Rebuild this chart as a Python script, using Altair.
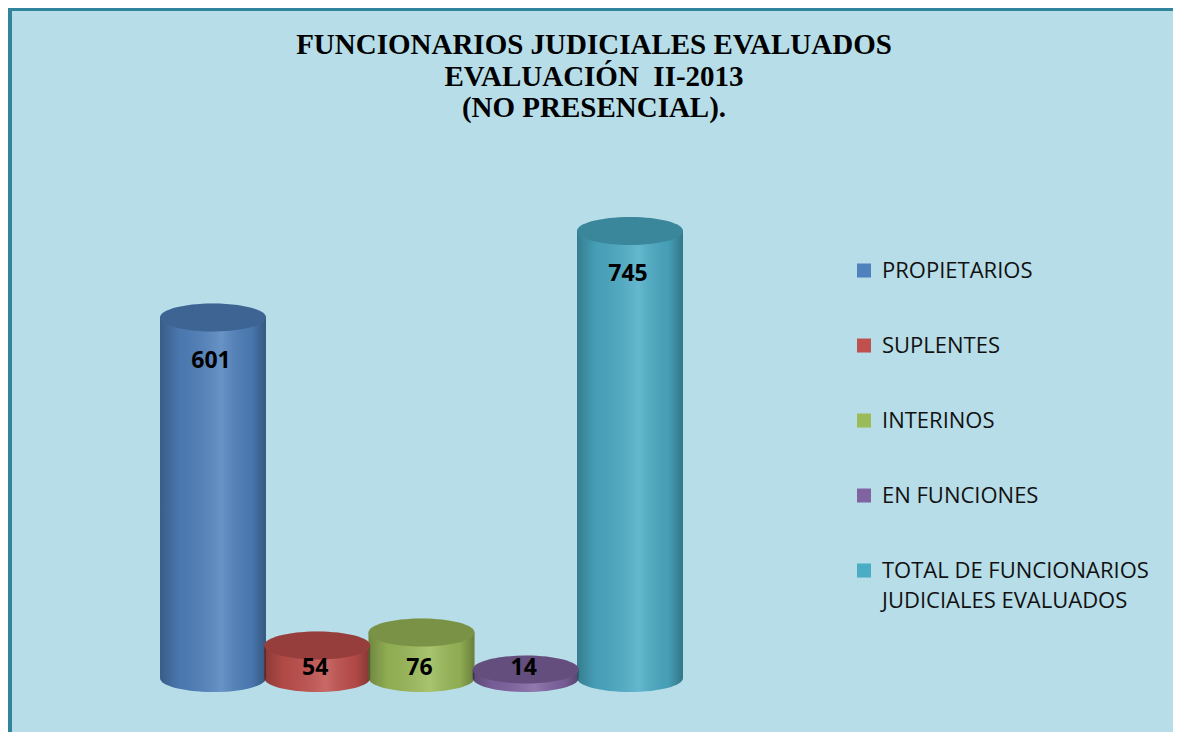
import altair as alt
import pandas as pd

CATEGORIES = ["PROPIETARIOS", "SUPLENTES", "INTERINOS", "EN FUNCIONES",
              "TOTAL DE FUNCIONARIOS JUDICIALES EVALUADOS"]
VALUES = [601, 54, 76, 14, 745]
BODY_COLORS = ["#4F81BD", "#C0504D", "#9BBB59", "#8064A2", "#4BACC6"]
TITLE_LINES = ["FUNCIONARIOS JUDICIALES EVALUADOS", "EVALUACIÓN\u00a0 II-2013", "(NO PRESENCIAL)."]

df = pd.DataFrame({"cat": CATEGORIES, "value": VALUES})

W, H = 1165, 724
BAR_W = 106
ELL = ("M -1 0 C -1 -0.146 -0.552 -0.264 0 -0.264 C 0.552 -0.264 1 -0.146 1 0 "
       "C 1 0.146 0.552 0.264 0 0.264 C -0.552 0.264 -1 0.146 -1 0 Z")
LEG_SQ = "M -1 0.36 L 1 0.36 L 1 2.36 L -1 2.36 Z"

GRAD = {
    "gradient": "linear", "x1": 0, "x2": 1, "y1": 0, "y2": 0,
    "stops": [
        {"offset": 0, "color": "rgba(0,0,0,0.28)"},
        {"offset": 0.18, "color": "rgba(0,0,0,0.08)"},
        {"offset": 0.58, "color": "rgba(255,255,255,0.14)"},
        {"offset": 0.86, "color": "rgba(0,0,0,0.08)"},
        {"offset": 1, "color": "rgba(0,0,0,0.32)"},
    ],
}

xscale = alt.Scale(type="point", domain=CATEGORIES, range=[205, 622], padding=0)
yscale = alt.Scale(domain=[0, 1000], range=[670, 70])
cscale = alt.Scale(domain=CATEGORIES, range=BODY_COLORS)

X = alt.X("cat:N", scale=xscale, axis=None)
Y = alt.Y("value:Q", scale=yscale, axis=None)
Y0 = alt.Y("zero:Q", scale=yscale, axis=None)

base = alt.Chart(df).transform_calculate(zero="0")

legend = alt.Legend(
    orient="none", legendX=845, legendY=242,
    symbolType=LEG_SQ, symbolSize=196, symbolStrokeWidth=0,
    labelFont="Open Sans", labelFontSize=22, labelColor="#111111",
    labelBaseline="top", labelOffset=7, labelLimit=500, rowPadding=43,
    labelExpr="datum.label == 'TOTAL DE FUNCIONARIOS JUDICIALES EVALUADOS' ? "
              "['TOTAL DE FUNCIONARIOS', 'JUDICIALES EVALUADOS'] : datum.label",
)
COLOR = alt.Color("cat:N", scale=cscale, legend=legend, title=None)

bottom = base.mark_point(shape=ELL, size=BAR_W ** 2, filled=True, opacity=1, strokeWidth=0).encode(
    x=X, y=Y0, color=COLOR)
bottom_ov = base.mark_point(shape=ELL, size=BAR_W ** 2, filled=True, opacity=1, strokeWidth=0,
                            color=GRAD).encode(x=X, y=Y0)
body = base.mark_bar(width=BAR_W).encode(x=X, y=Y, y2="zero:Q", color=COLOR)
body_ov = base.mark_bar(width=BAR_W, color=GRAD).encode(x=X, y=Y, y2="zero:Q")
top = base.mark_point(shape=ELL, size=BAR_W ** 2, filled=True, opacity=1, strokeWidth=0).encode(
    x=X, y=Y, color=COLOR)
top_dark = base.mark_point(shape=ELL, size=BAR_W ** 2, filled=True, opacity=0.22, strokeWidth=0,
                           color="black").encode(x=X, y=Y)

labels = base.transform_calculate(
    ly="datum.value > 200 ? datum.value - 72 : 16"
).mark_text(font="Open Sans", fontSize=23, fontWeight="bold", color="black",
            align="center", baseline="middle", dx=-2).encode(
    x=X, y=alt.Y("ly:Q", scale=yscale, axis=None), text="value:Q")

one = alt.Data(values=[{}])
title = alt.Chart(one).mark_text(
    font="Liberation Serif", fontSize=29, fontWeight="bold", color="black",
    align="center", baseline="alphabetic", lineBreak="\n", lineHeight=31.5
).encode(x=alt.value(586), y=alt.value(46), text=alt.value("\n".join(TITLE_LINES)))

border_left = alt.Chart(one).mark_rule(color="#31849B", strokeWidth=4).encode(
    x=alt.value(2), y=alt.value(0), y2=alt.value(H))
border_top = alt.Chart(one).mark_rule(color="#31849B", strokeWidth=3).encode(
    y=alt.value(1.5), x=alt.value(0), x2=alt.value(W))

chart = alt.layer(
    bottom, bottom_ov, body, body_ov, top, top_dark, labels, title, border_left, border_top
).properties(
    width=W, height=H, background="#B7DDE8", padding=0, autosize="none"
).configure_view(strokeWidth=0).configure(style={"guide-label": {"lineHeight": 30}})

chart.save("out.html", embed_options={"renderer": "svg", "actions": False})
